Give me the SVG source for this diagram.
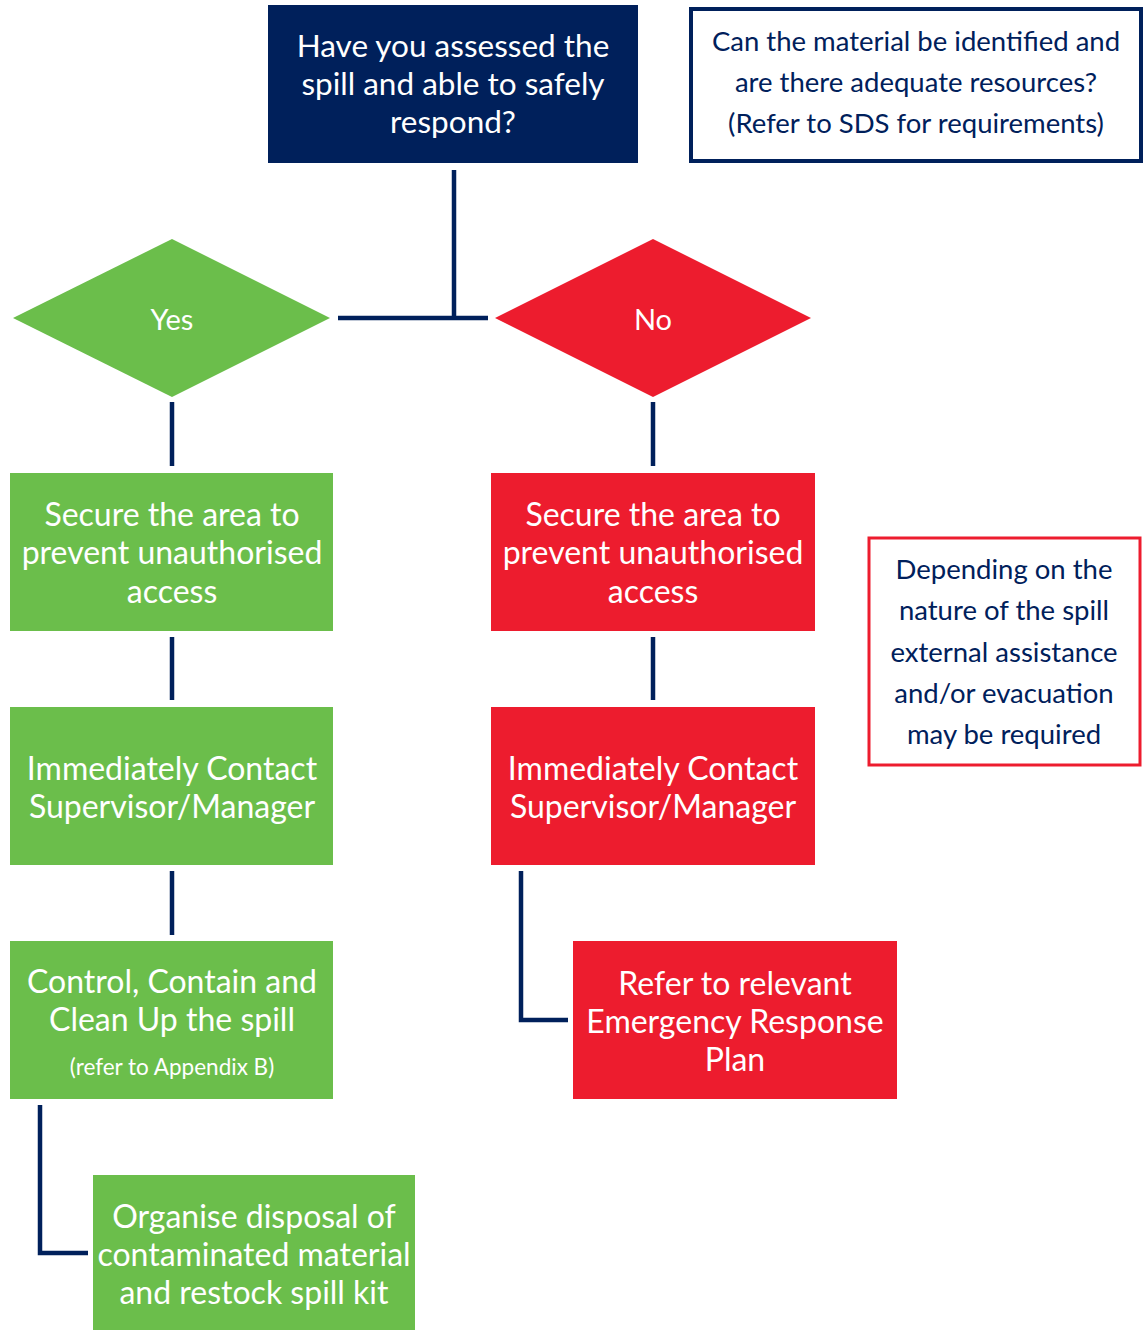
<svg xmlns="http://www.w3.org/2000/svg" width="1148" height="1330" viewBox="0 0 1148 1330">
<style>
.navy{fill:#00205B}
.green{fill:#6BBE4B}
.red{fill:#ED1C2E}
.wt{fill:#FFFFFF;font-family:Lato,"Open Sans","Liberation Sans",sans-serif;font-size:32px;text-anchor:middle;dominant-baseline:central}
.nt{fill:#00205B;font-family:Lato,"Open Sans","Liberation Sans",sans-serif;font-size:27.5px;text-anchor:middle;dominant-baseline:central}
.small{font-size:22.5px}
.conn{fill:none;stroke:#00205B;stroke-width:4.5}
</style>
<rect width="1148" height="1330" fill="#FFFFFF"/>
<g id="connectors">
<path class="conn" d="M454 170V318M338 318H488"/>
<path class="conn" d="M172 402V466"/>
<path class="conn" d="M653 402V466"/>
<path class="conn" d="M172 637V700"/>
<path class="conn" d="M653 637V700"/>
<path class="conn" d="M172 871V935"/>
<path class="conn" d="M521 871V1020H568"/>
<path class="conn" d="M40 1105V1253H88"/>
</g>
<g id="start">
<rect class="navy" x="268" y="5" width="370" height="158"/>
<text class="wt" style="font-size:31.5px"><tspan x="453" y="45">Have you assessed the</tspan><tspan x="453" y="83">spill and able to safely</tspan><tspan x="453" y="121">respond?</tspan></text>
</g>
<g id="note-top">
<rect x="691" y="9" width="450" height="152" fill="#FFFFFF" stroke="#00205B" stroke-width="4"/>
<text class="nt"><tspan x="916" y="40">Can the material be identified and</tspan><tspan x="916" y="81">are there adequate resources?</tspan><tspan x="916" y="122">(Refer to SDS for requirements)</tspan></text>
</g>
<g id="yes">
<polygon class="green" points="13,318 172,239 330,318 172,397"/>
<text class="wt" x="172" y="318" style="font-size:29px">Yes</text>
</g>
<g id="no">
<polygon class="red" points="495,318 653,239 811,318 653,397"/>
<text class="wt" x="653" y="318" style="font-size:29px">No</text>
</g>
<g id="yes-secure">
<rect class="green" x="10" y="473" width="323" height="158"/>
<text class="wt"><tspan x="172" y="513">Secure the area to</tspan><tspan x="172" y="551">prevent unauthorised</tspan><tspan x="172" y="590">access</tspan></text>
</g>
<g id="no-secure">
<rect class="red" x="491" y="473" width="324" height="158"/>
<text class="wt"><tspan x="653" y="513">Secure the area to</tspan><tspan x="653" y="551">prevent unauthorised</tspan><tspan x="653" y="590">access</tspan></text>
</g>
<g id="yes-contact">
<rect class="green" x="10" y="707" width="323" height="158"/>
<text class="wt"><tspan x="172" y="767">Immediately Contact</tspan><tspan x="172" y="805">Supervisor/Manager</tspan></text>
</g>
<g id="no-contact">
<rect class="red" x="491" y="707" width="324" height="158"/>
<text class="wt"><tspan x="653" y="767">Immediately Contact</tspan><tspan x="653" y="805">Supervisor/Manager</tspan></text>
</g>
<g id="yes-control">
<rect class="green" x="10" y="941" width="323" height="158"/>
<text class="wt"><tspan x="172" y="980">Control, Contain and</tspan><tspan x="172" y="1018">Clean Up the spill</tspan></text>
<text class="wt small" x="172" y="1066">(refer to Appendix B)</text>
</g>
<g id="no-erp">
<rect class="red" x="573" y="941" width="324" height="158"/>
<text class="wt"><tspan x="735" y="982">Refer to relevant</tspan><tspan x="735" y="1020">Emergency Response</tspan><tspan x="735" y="1058">Plan</tspan></text>
</g>
<g id="yes-dispose">
<rect class="green" x="93" y="1175" width="322" height="155"/>
<text class="wt"><tspan x="254" y="1215">Organise disposal of</tspan><tspan x="254" y="1253">contaminated material</tspan><tspan x="254" y="1291">and restock spill kit</tspan></text>
</g>
<g id="note-red">
<rect x="869" y="538" width="271" height="227" fill="#FFFFFF" stroke="#ED1C2E" stroke-width="3"/>
<text class="nt"><tspan x="1004" y="568">Depending on the</tspan><tspan x="1004" y="609">nature of the spill</tspan><tspan x="1004" y="651">external assistance</tspan><tspan x="1004" y="692">and/or evacuation</tspan><tspan x="1004" y="733">may be required</tspan></text>
</g>
</svg>
